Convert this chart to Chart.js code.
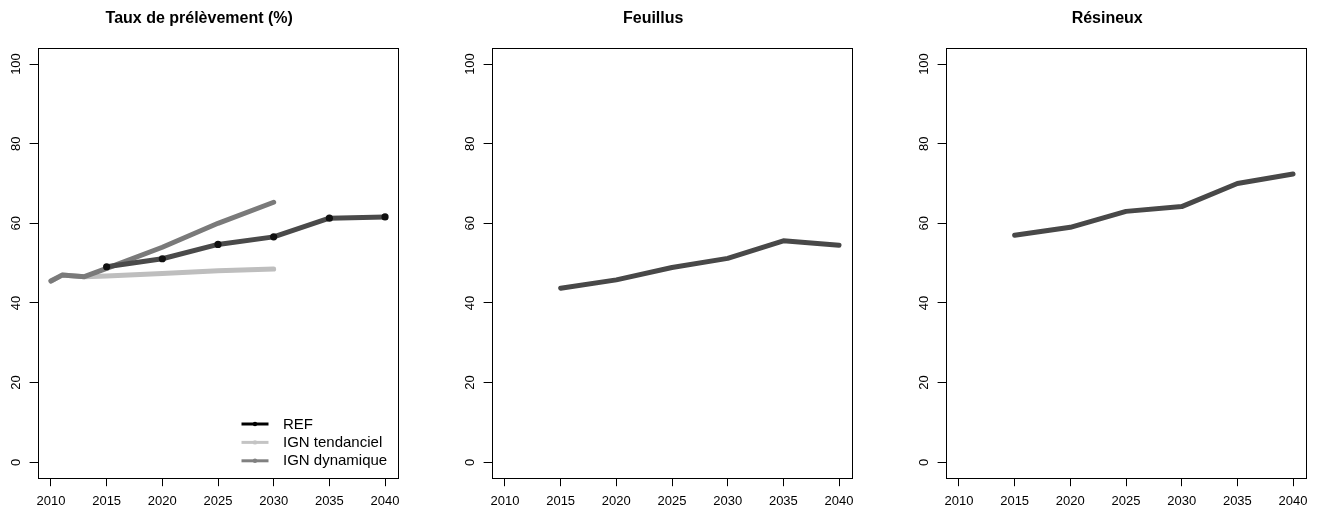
<!DOCTYPE html>
<html><head><meta charset="utf-8">
<script src="https://cdn.jsdelivr.net/npm/chart.js@4/dist/chart.umd.min.js"></script>
<style>
html,body{margin:0;padding:0;background:#fff;width:1318px;height:512px;overflow:hidden;}
.p{position:absolute;top:0;width:436px;height:512px;}
canvas{display:block;}
</style></head><body>
<div class="p" style="left:0px"><canvas id="c1" width="436" height="512"></canvas></div>
<div class="p" style="left:454px"><canvas id="c2" width="436" height="512"></canvas></div>
<div class="p" style="left:908px"><canvas id="c3" width="436" height="512"></canvas></div>
<script>
// ---- data ----
const xTicks = [2010, 2015, 2020, 2025, 2030, 2035, 2040];
const yTicks = [0, 20, 40, 60, 80, 100];
const refYears = [2015, 2020, 2025, 2030, 2035, 2040];
const refValues = [49.1, 51.1, 54.7, 56.6, 61.3, 61.6];
const ignYears = [2010, 2011, 2013, 2015, 2020, 2025, 2030];
const ignTendValues = [45.5, 47.0, 46.6, 46.8, 47.4, 48.1, 48.5];
const ignDynValues = [45.5, 47.0, 46.6, 48.7, 54.0, 60.0, 65.3];
const feuillusValues = [43.7, 45.8, 48.9, 51.2, 55.6, 54.5];
const resineuxValues = [57.0, 59.0, 63.0, 64.2, 70.0, 72.4];
const panelTitles = ['Taux de prélèvement (%)', 'Feuillus', 'Résineux'];
const legendLabels = ['REF', 'IGN tendanciel', 'IGN dynamique'];

// ---- styles ----
const FONT = '"Liberation Sans", Arial, Helvetica, sans-serif';
const TICK_SIZE = 13;
const toXY = (xs, ys) => xs.map((x, i) => ({x: x, y: ys[i]}));

const boxPlugin = {
  id: 'rbox',
  afterDraw(c) {
    const a = c.chartArea, ctx = c.ctx;
    ctx.save();
    ctx.strokeStyle = '#000'; ctx.lineWidth = 1;
    const l = Math.round(a.left) + 0.5, t = Math.round(a.top) + 0.5;
    const r = Math.round(a.right) + 0.5, b = Math.round(a.bottom) + 0.5;
    ctx.strokeRect(l, t, r - l, b - t);
    // rotated y tick labels (R style)
    const s = c.scales.y;
    ctx.fillStyle = '#000';
    ctx.font = TICK_SIZE + 'px ' + FONT;
    ctx.textAlign = 'center'; ctx.textBaseline = 'middle';
    s.ticks.forEach(tk => {
      const y = s.getPixelForValue(tk.value);
      ctx.save(); ctx.translate(16, y); ctx.rotate(-Math.PI / 2);
      ctx.fillText(String(tk.value), 0, 0); ctx.restore();
    });
    ctx.restore();
  }
};

const legendPlugin = {
  id: 'rlegend',
  afterDraw(c, args, opts) {
    if (!opts || !opts.show) return;
    const ctx = c.ctx;
    ctx.save();
    ctx.font = '15px ' + FONT;
    ctx.textBaseline = 'middle'; ctx.textAlign = 'left';
    [0, 1, 2].forEach((di, i) => {
      const ds = c.data.datasets[di];
      const y = 424 + i * 18.4;
      ctx.strokeStyle = opts.colors[i]; ctx.lineWidth = 3; ctx.lineCap = 'butt';
      ctx.beginPath(); ctx.moveTo(241.5, y); ctx.lineTo(268.5, y); ctx.stroke();
      ctx.fillStyle = opts.colors[i];
      ctx.beginPath(); ctx.arc(255, y, 2.2, 0, Math.PI * 2); ctx.fill();
      ctx.fillStyle = '#000';
      ctx.fillText(ds.label, 283, y + 0.5);
    });
    ctx.restore();
  }
};

function makeScales() {
  return {
    x: {
      type: 'linear', min: 2008.8, max: 2041.2,
      afterBuildTicks: s => { s.ticks = xTicks.map(v => ({value: v})); },
      afterFit: s => { s.height = 33.8; },
      border: {display: false},
      grid: {drawOnChartArea: false, drawTicks: true, tickLength: 8, color: '#000', lineWidth: 1},
      ticks: {color: '#000', font: {family: FONT, size: TICK_SIZE}, padding: 7.5, maxRotation: 0, minRotation: 0,
              autoSkip: false, callback: v => String(v)}
    },
    y: {
      type: 'linear', min: -4, max: 104,
      afterBuildTicks: s => { s.ticks = yTicks.map(v => ({value: v})); },
      afterFit: s => { s.width = 37.6; },
      border: {display: false},
      grid: {drawOnChartArea: false, drawTicks: true, tickLength: 8, color: '#000', lineWidth: 1},
      ticks: {display: false}
    }
  };
}

function makeChart(id, title, datasets, legendOpts) {
  return new Chart(document.getElementById(id), {
    type: 'line',
    data: {datasets: datasets},
    options: {
      responsive: false, animation: false, devicePixelRatio: 1,
      layout: {padding: {left: 0, right: 37.6, top: 0, bottom: 0}},
      scales: makeScales(),
      elements: {line: {tension: 0, borderCapStyle: 'round', borderJoinStyle: 'round'}},
      plugins: {
        legend: {display: false}, tooltip: {enabled: false},
        title: {display: true, text: title, color: '#000',
                font: {family: FONT, size: 16, weight: 'bold', lineHeight: 1.2},
                padding: {top: 9.2, bottom: 19.7}},
        rlegend: legendOpts || {show: false}
      }
    },
    plugins: [boxPlugin, legendPlugin]
  });
}

makeChart('c1', panelTitles[0], [
  {label: legendLabels[0], data: toXY(refYears, refValues), borderColor: '#4a4a4a', borderWidth: 5,
   pointRadius: 3.6, pointBackgroundColor: '#111', pointBorderWidth: 0, order: 0},
  {label: legendLabels[1], data: toXY(ignYears, ignTendValues), borderColor: '#bebebe', borderWidth: 5,
   pointRadius: 0, order: 2},
  {label: legendLabels[2], data: toXY(ignYears, ignDynValues), borderColor: '#7a7a7a', borderWidth: 5,
   pointRadius: 0, order: 1}
], {show: true, colors: ['#000000', '#c4c4c4', '#808080']});

makeChart('c2', panelTitles[1], [
  {label: 'Feuillus', data: toXY(refYears, feuillusValues), borderColor: '#484848', borderWidth: 5, pointRadius: 0}
]);

makeChart('c3', panelTitles[2], [
  {label: 'Résineux', data: toXY(refYears, resineuxValues), borderColor: '#484848', borderWidth: 5, pointRadius: 0}
]);
</script>
</body></html>
